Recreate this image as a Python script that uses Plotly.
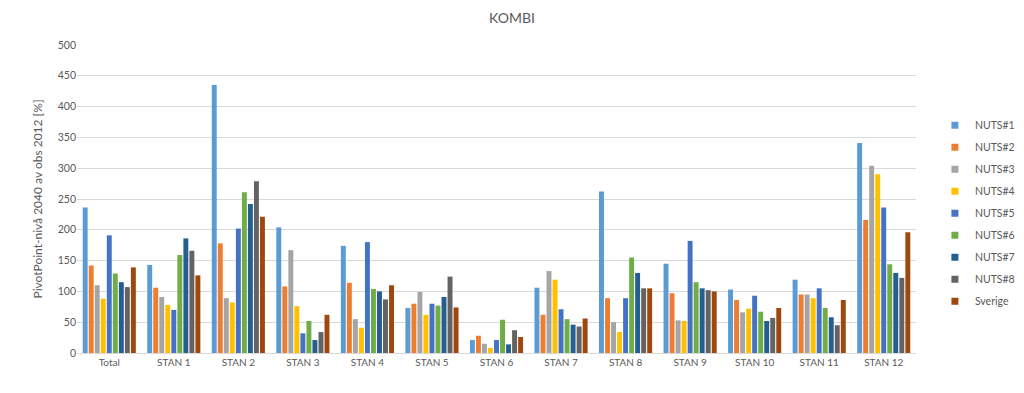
import plotly.graph_objects as go

categories = ["Total", "STAN 1", "STAN 2", "STAN 3", "STAN 4", "STAN 5", "STAN 6",
              "STAN 7", "STAN 8", "STAN 9", "STAN 10", "STAN 11", "STAN 12"]

nuts1 = [236, 143, 435, 204, 174, 73, 21, 106, 262, 145, 103, 119, 341]
nuts2 = [142, 106, 178, 108, 114, 80, 28, 62, 89, 97, 86, 95, 216]
nuts3 = [110, 91, 89, 167, 55, 99, 15, 133, 50, 53, 66, 95, 304]
nuts4 = [88, 78, 82, 76, 41, 62, 8, 119, 34, 52, 72, 89, 290]
nuts5 = [191, 70, 202, 32, 180, 80, 21, 71, 89, 182, 93, 105, 236]
nuts6 = [129, 159, 261, 52, 104, 77, 54, 55, 155, 115, 67, 73, 144]
nuts7 = [115, 186, 242, 21, 100, 91, 14, 46, 130, 105, 52, 58, 130]
nuts8 = [107, 166, 279, 34, 87, 124, 37, 43, 105, 102, 57, 45, 122]
sverige = [139, 126, 221, 62, 110, 74, 26, 56, 105, 100, 73, 86, 196]

series_names = ["NUTS#1", "NUTS#2", "NUTS#3", "NUTS#4", "NUTS#5",
                "NUTS#6", "NUTS#7", "NUTS#8", "Sverige"]
series_values = [nuts1, nuts2, nuts3, nuts4, nuts5, nuts6, nuts7, nuts8, sverige]
colors = ["#5B9BD5", "#ED7D31", "#A5A5A5", "#FFC000", "#4472C4",
          "#70AD47", "#255E91", "#636363", "#9E480E"]

y_ticks = [0, 50, 100, 150, 200, 250, 300, 350, 400, 450, 500]

FONT = "Lato, 'Open Sans', sans-serif"
GRAY = "#595959"

fig = go.Figure()
for name, vals, col in zip(series_names, series_values, colors):
    fig.add_trace(go.Bar(
        x=categories, y=vals, name=name,
        marker=dict(color=col, line=dict(width=0)),
        showlegend=False,
    ))
# small square legend markers (legend only)
for name, col in zip(series_names, colors):
    fig.add_trace(go.Scatter(
        x=[None], y=[None], mode="markers", name=name,
        marker=dict(symbol="square", size=7, color=col),
        legendgroup=name, showlegend=True,
    ))

fig.update_layout(
    width=1024, height=393,
    paper_bgcolor="white", plot_bgcolor="white",
    barmode="group", bargap=0.16, bargroupgap=0.18,
    margin=dict(l=77, r=108, t=45, b=40, autoexpand=False),
    font=dict(family=FONT, size=10, color=GRAY),
    title=dict(text="KOMBI", x=0.5, xref="container", xanchor="center",
               y=0.955, yanchor="middle",
               font=dict(family=FONT, size=14, color=GRAY)),
    legend=dict(
        xref="container", yref="container",
        x=0.913, y=0.718, xanchor="left", yanchor="top",
        font=dict(family=FONT, size=10.5, color=GRAY),
        traceorder="grouped", tracegroupgap=3,
        itemwidth=30, bgcolor="rgba(0,0,0,0)",
        maxheight=330,
    ),
    xaxis=dict(
        showgrid=False, showline=True, linecolor="#D9D9D9", linewidth=1,
        ticks="", tickfont=dict(family=FONT, size=10, color=GRAY),
    ),
    yaxis=dict(
        range=[0, 500], tickvals=y_ticks, showgrid=True, gridcolor="#D9D9D9",
        gridwidth=1, zeroline=False, showline=False, ticks="",
        tickfont=dict(family=FONT, size=10.5, color=GRAY),
        title=dict(text="PivotPoint-nivå 2040 av obs 2012 [%]",
                   font=dict(family=FONT, size=12, color=GRAY), standoff=12),
    ),
)

fig.write_html("out.html")
